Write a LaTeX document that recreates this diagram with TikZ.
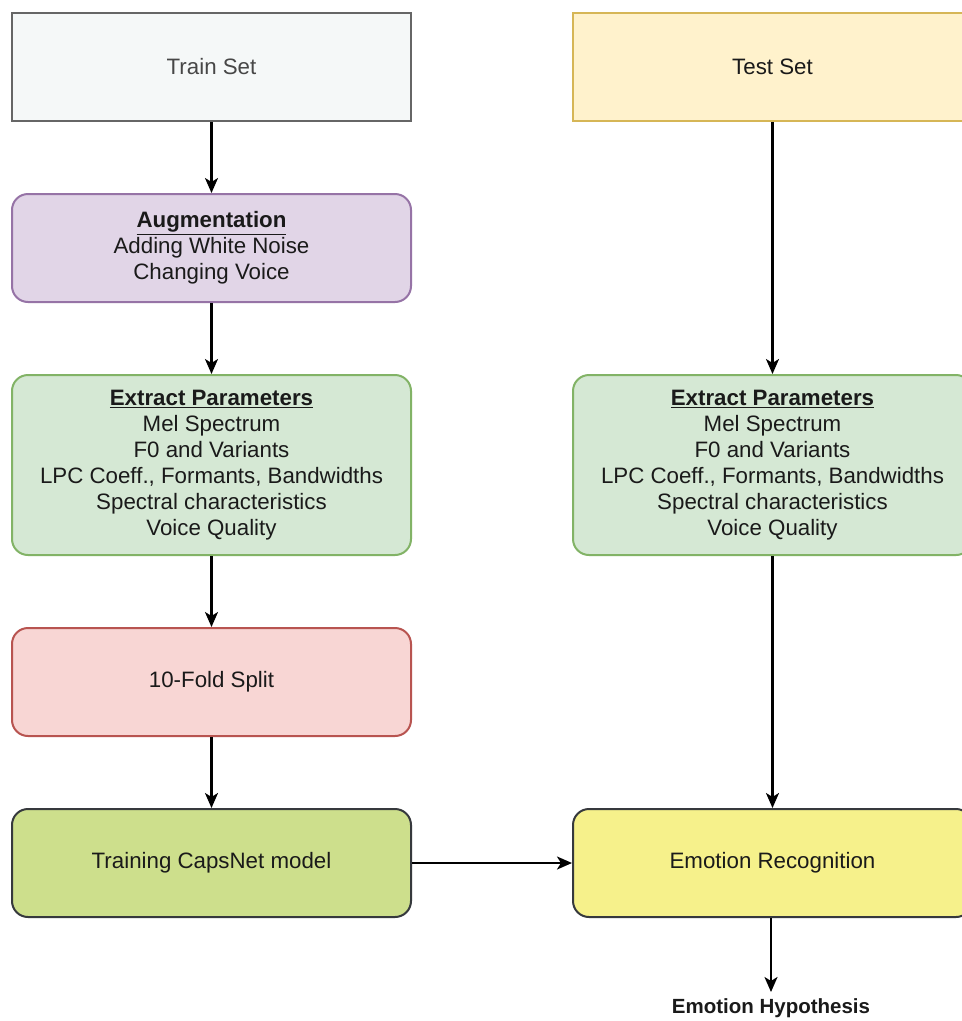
\documentclass[tikz,border=0pt]{standalone}
\usepackage{fontspec}
\setmainfont{Liberation Sans}
\usetikzlibrary{arrows.meta}
\definecolor{trainfill}{HTML}{F5F8F8}
\definecolor{trainline}{HTML}{666666}
\definecolor{testfill}{HTML}{FFF2CC}
\definecolor{testline}{HTML}{D6B656}
\definecolor{augfill}{HTML}{E1D5E7}
\definecolor{augline}{HTML}{9673A6}
\definecolor{extfill}{HTML}{D5E8D4}
\definecolor{extline}{HTML}{82B366}
\definecolor{foldfill}{HTML}{F8D6D4}
\definecolor{foldline}{HTML}{B85450}
\definecolor{capsfill}{HTML}{CDDF8C}
\definecolor{recfill}{HTML}{F6F18B}
\definecolor{darkline}{HTML}{36393D}
\definecolor{txt}{HTML}{1A1A1A}
\begin{document}
\begin{tikzpicture}[x=1pt,y=-1pt,
  box/.style={draw, line width=2pt, minimum width=399pt, minimum height=108pt,
    align=center, inner sep=0pt, text=txt,
    font=\fontsize{22.3}{26}\selectfont},
  rbox/.style={box, rounded corners=16pt},
  tall/.style={minimum height=180pt},
  flow/.style={line width=2.2pt, -{Stealth[length=15pt,width=13pt,inset=4pt]}}
]
\useasboundingbox (0,0) rectangle (962,1021);
\clip (0,0) rectangle (962,1021);
\fill[white] (0,0) rectangle (962,1021);

\node[box, fill=trainfill, draw=trainline, text=black!72] (train) at (211.5,67) {Train Set};
\node[box, fill=testfill, draw=testline] (test) at (772.5,67) {Test Set};
\node[rbox, fill=augfill, draw=augline] (aug) at (211.5,248)
  {\underline{\textbf{Augmentation}}\\Adding White Noise\\Changing Voice};
\node[rbox, tall, fill=extfill, draw=extline] (extl) at (211.5,465)
  {\underline{\textbf{Extract Parameters}}\\Mel Spectrum\\F0 and Variants\\LPC Coeff., Formants, Bandwidths\\Spectral characteristics\\Voice Quality};
\node[rbox, tall, fill=extfill, draw=extline] (extr) at (772.5,465)
  {\underline{\textbf{Extract Parameters}}\\Mel Spectrum\\F0 and Variants\\LPC Coeff., Formants, Bandwidths\\Spectral characteristics\\Voice Quality};
\node[rbox, fill=foldfill, draw=foldline] (fold) at (211.5,682) {10-Fold Split};
\node[rbox, fill=capsfill, draw=darkline] (caps) at (211.5,863) {Training CapsNet model};
\node[rbox, fill=recfill, draw=darkline] (rec) at (772.5,863) {Emotion Recognition};
\node[font=\fontsize{20.5}{24}\selectfont\bfseries, text=txt, inner sep=0pt] (hyp) at (771,1008) {Emotion Hypothesis};
\coordinate (hypin) at (771,992);

\draw[flow] (train) -- (aug);
\draw[flow] (aug) -- (extl);
\draw[flow] (extl) -- (fold);
\draw[flow] (fold) -- (caps);
\draw[flow] (test.south -| extr.north) -- (extr);
\draw[flow] (extr) -- (rec);
\draw[flow] (caps) -- (rec);
\draw[flow] (rec.south -| hypin) -- (hypin);
\end{tikzpicture}
\end{document}
